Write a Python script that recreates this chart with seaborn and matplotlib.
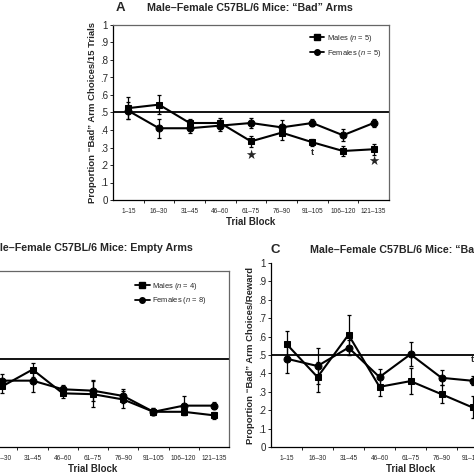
import numpy as np
import pandas as pd
import matplotlib
matplotlib.use("Agg")
import matplotlib.pyplot as plt
import seaborn as sns
from matplotlib.lines import Line2D

# --- data ---
blocks = ["1–15", "16–30", "31–45", "46–60", "61–75", "76–90", "91–105", "106–120", "121–135"]

# A: "Bad" arms
a_males = [0.525, 0.545, 0.44, 0.44, 0.335, 0.385, 0.33, 0.28, 0.29]
a_males_err = [0.065, 0.055, 0.025, 0.03, 0.03, 0.04, 0.02, 0.03, 0.03]
a_females = [0.51, 0.41, 0.41, 0.425, 0.44, 0.415, 0.44, 0.37, 0.44]
a_females_err = [0.05, 0.055, 0.025, 0.03, 0.03, 0.04, 0.02, 0.035, 0.025]

# B: empty arms
b_males = [0.39, 0.345, 0.44, 0.305, 0.30, 0.27, 0.20, 0.20, 0.18]
b_males_err = [0.04, 0.04, 0.04, 0.025, 0.075, 0.05, 0.02, 0.02, 0.02]
b_females = [0.41, 0.377, 0.377, 0.328, 0.32, 0.29, 0.20, 0.235, 0.235]
b_females_err = [0.04, 0.04, 0.065, 0.025, 0.06, 0.04, 0.02, 0.055, 0.02]

# C: "Bad" arm choices / reward
c_males = [0.56, 0.38, 0.61, 0.327, 0.358, 0.287, 0.215, 0.25, 0.22]
c_males_err = [0.07, 0.08, 0.11, 0.05, 0.07, 0.05, 0.06, 0.05, 0.05]
c_females = [0.48, 0.44, 0.54, 0.38, 0.504, 0.376, 0.36, 0.38, 0.33]
c_females_err = [0.08, 0.10, 0.04, 0.045, 0.065, 0.04, 0.025, 0.04, 0.04]

sns.set_style("ticks")
plt.rcParams["font.family"] = ["Liberation Sans", "DejaVu Sans"]
plt.rcParams["mathtext.fontset"] = "custom"
plt.rcParams["mathtext.it"] = "Liberation Sans:italic"
plt.rcParams["mathtext.rm"] = "Liberation Sans"

W = 474.0


def px_box(left, top, right, bottom):
    return [left / W, 1 - bottom / W, (right - left) / W, (bottom - top) / W]


def draw_panel(ax, m, m_err, f, f_err, ylabel):
    df = pd.DataFrame({
        "block": blocks * 2,
        "prop": m + f,
        "sex": ["Males"] * len(blocks) + ["Females"] * len(blocks),
    })
    ax.axhline(0.5, color="black", lw=1.3, zorder=1)
    sns.lineplot(data=df, x="block", y="prop", style="sex",
                 markers={"Males": "s", "Females": "o"}, dashes=False,
                 color="black", sort=False, markersize=5,
                 markeredgecolor="black", linewidth=1.5, legend=False, ax=ax)
    ax.errorbar(blocks, m, yerr=m_err, fmt="none", ecolor="black",
                elinewidth=0.9, capsize=1.7, capthick=0.9)
    ax.errorbar(blocks, f, yerr=f_err, fmt="none", ecolor="black",
                elinewidth=0.9, capsize=1.7, capthick=0.9)
    ax.set_xlim(-0.5, len(blocks) - 0.5)
    ax.set_ylim(0, 1)
    yt = np.round(np.arange(0, 1.01, 0.1), 1)
    ax.set_yticks(yt)
    ax.set_yticklabels(["0" if v == 0 else "1" if v == 1 else ("%.1f" % v)[1:] for v in yt],
                       fontsize=7)
    ax.set_xticks(range(len(blocks)))
    ax.set_xticklabels(blocks, fontsize=4.7)
    ax.set_xticks(np.arange(0.5, len(blocks) - 1, 1), minor=True)
    ax.tick_params(axis="x", which="major", length=0, pad=6)
    ax.tick_params(axis="x", which="minor", length=2.2, width=0.7)
    ax.tick_params(axis="y", length=2, width=0.7, pad=1.5)
    ax.set_xlabel("Trial Block", fontsize=7, fontweight="bold", labelpad=1)
    ax.set_ylabel(ylabel, fontsize=6.8, fontweight="bold", labelpad=2)
    for s in ax.spines.values():
        s.set_linewidth(0.9)
        s.set_color("black")


def add_legend(ax, nm, nf, anchor):
    handles = [
        Line2D([0], [0], color="black", marker="s", ms=4, lw=1.3),
        Line2D([0], [0], color="black", marker="o", ms=4, lw=1.3),
    ]
    labels = ["Males ($n$ = %d)" % nm, "Females ($n$ = %d)" % nf]
    ax.legend(handles, labels, loc="upper right", bbox_to_anchor=anchor,
              frameon=False, fontsize=5.4, handlelength=1.9,
              handletextpad=0.3, labelspacing=0.5, borderpad=0.2)


fig = plt.figure(figsize=(4.74, 4.74), dpi=100)

# --- A ---
axA = fig.add_axes(px_box(113, 25, 389, 200))
draw_panel(axA, a_males, a_males_err, a_females, a_females_err,
           "Proportion “Bad” Arm Choices/15 Trials")
for s in ("top", "right"):
    axA.spines[s].set_color("#666666")
add_legend(axA, 5, 5, (0.99, 0.985))
axA.text(4, 0.255, "★", ha="center", va="center", fontsize=9, family="DejaVu Sans")
axA.text(6, 0.27, "t", ha="center", va="center", fontsize=6.5, fontweight="bold")
axA.text(8, 0.22, "★", ha="center", va="center", fontsize=9, family="DejaVu Sans")

# --- B ---
axB = fig.add_axes(px_box(-43, 271, 229, 447))
draw_panel(axB, b_males, b_males_err, b_females, b_females_err,
           "Proportion Empty Arm Choices/15 Trials")
for s in ("top", "right"):
    axB.spines[s].set_color("#666666")
add_legend(axB, 4, 8, (0.935, 0.975))

# --- C ---
axC = fig.add_axes(px_box(271, 263, 550, 447))
draw_panel(axC, c_males, c_males_err, c_females, c_females_err,
           "Proportion “Bad” Arm Choices/Reward")
axC.spines["top"].set_visible(False)
axC.spines["right"].set_visible(False)
axC.text(6, 0.475, "t", ha="center", va="center", fontsize=6.5, fontweight="bold")

# panel letters and titles
fig.text(120 / W, 1 - 8 / W, "A", ha="center", va="center", fontsize=9.5, fontweight="bold")
fig.text(147 / W, 1 - 8 / W, "Male–Female C57BL/6 Mice: “Bad” Arms",
         ha="left", va="center", fontsize=7.7, fontweight="bold")
fig.text(193 / W, 1 - 248 / W, "Male–Female C57BL/6 Mice: Empty Arms",
         ha="right", va="center", fontsize=7.7, fontweight="bold")
fig.text(275 / W, 1 - 250 / W, "C", ha="center", va="center", fontsize=9.5, fontweight="bold")
fig.text(310 / W, 1 - 250 / W, "Male–Female C57BL/6 Mice: “Bad” Arm Choices/Reward",
         ha="left", va="center", fontsize=7.7, fontweight="bold")

fig.savefig("out.png", dpi=100)
